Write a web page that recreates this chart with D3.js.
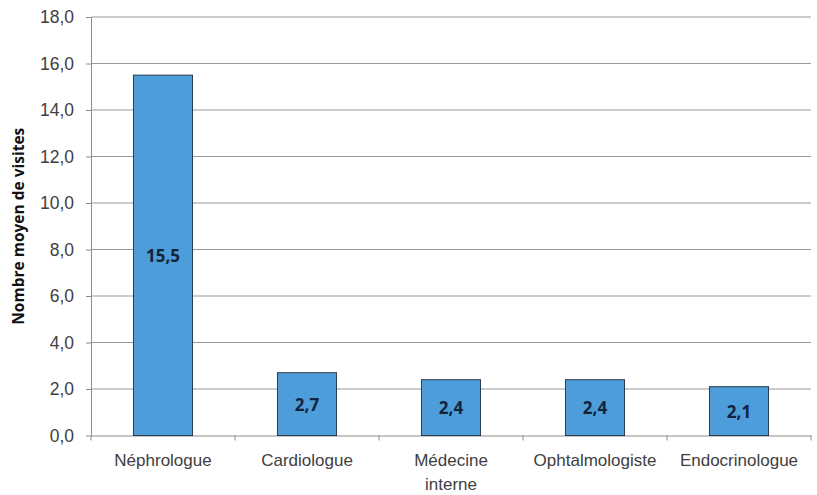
<!DOCTYPE html>
<html>
<head>
<meta charset="utf-8">
<script src="https://cdn.jsdelivr.net/npm/d3@7"></script>
<style>
  html, body { margin: 0; padding: 0; background: #fff; }
  svg { display: block; font-family: "Open Sans", "Liberation Sans", sans-serif; }
</style>
</head>
<body>
<svg id="chart" width="817" height="495"></svg>
<script>
const categories = ["Néphrologue", "Cardiologue", "Médecine interne", "Ophtalmologiste", "Endocrinologue"];
const values = [15.5, 2.7, 2.4, 2.4, 2.1];
const yTicks = [0, 2, 4, 6, 8, 10, 12, 14, 16, 18];
const yTitle = "Nombre moyen de visites";

const svg = d3.select("#chart");
const pLeft = 91, pRight = 811, pTop = 17, pBottom = 435.5;
const fmt = v => d3.format(".1f")(v).replace(".", ",");

const x = d3.scaleBand().domain(categories).range([pLeft, pRight]).paddingInner(0.59).paddingOuter(0.295);
const y = d3.scaleLinear().domain([0, 18]).range([pBottom, pTop]);

// gridlines
svg.append("g").selectAll("line").data(yTicks.filter(t => t > 0)).join("line")
  .attr("x1", pLeft).attr("x2", pRight)
  .attr("y1", d => y(d)).attr("y2", d => y(d))
  .attr("stroke", "#9a9a9a").attr("stroke-width", 1);

// y axis
const yAxis = svg.append("g").attr("transform", `translate(${pLeft},0)`)
  .call(d3.axisLeft(y).tickValues(yTicks).tickFormat(fmt).tickSizeInner(5).tickSizeOuter(0).tickPadding(12));
yAxis.select(".domain").attr("stroke", "#8c8c8c");
yAxis.selectAll(".tick line").attr("stroke", "#8c8c8c");
yAxis.selectAll("text").attr("fill", "#404040").style("font-size", "17.5px");

// x axis
const xAxis = svg.append("g").attr("transform", `translate(0,${pBottom})`)
  .call(d3.axisBottom(x).tickSize(0).tickPadding(18));
xAxis.select(".domain").attr("stroke", "#8c8c8c");
xAxis.selectAll(".tick text").attr("fill", "#404040").style("font-size", "17px")
  .each(function(d) {
    const t = d3.select(this);
    if (d === "Médecine interne") {
      t.text(null);
      t.append("tspan").attr("x", 0).attr("dy", "0.71em").text("Médecine");
      t.append("tspan").attr("x", 0).attr("dy", "1.45em").text("interne");
    }
  });
// x axis boundary ticks
const bounds = categories.map(c => x(c) - x.step() * x.paddingInner() / 2).concat([pRight]);
svg.append("g").selectAll("line").data(bounds).join("line")
  .attr("x1", d => d).attr("x2", d => d)
  .attr("y1", pBottom).attr("y2", pBottom + 5)
  .attr("stroke", "#8c8c8c");

// bars
svg.append("g").selectAll("rect").data(values).join("rect")
  .attr("x", (d, i) => x(categories[i]))
  .attr("width", x.bandwidth())
  .attr("y", d => y(d))
  .attr("height", d => y(0) - y(d))
  .attr("fill", "#4d9dda")
  .attr("stroke", "#2b3b4f").attr("stroke-width", 1);

// value labels
svg.append("g").selectAll("text").data(values).join("text")
  .attr("x", (d, i) => x(categories[i]) + x.bandwidth() / 2)
  .attr("y", d => (y(d) + y(0)) / 2)
  .attr("text-anchor", "middle").attr("dominant-baseline", "central")
  .attr("fill", "#14233a").style("font-size", "17px").style("font-weight", "bold")
  .text(d => fmt(d));

// y title
svg.append("text")
  .attr("transform", `translate(18,${(pTop + pBottom) / 2}) rotate(-90)`)
  .attr("text-anchor", "middle").attr("dominant-baseline", "central")
  .attr("fill", "#111").style("font-size", "15.5px").style("font-weight", "bold")
  .text(yTitle);
</script>
</body>
</html>
